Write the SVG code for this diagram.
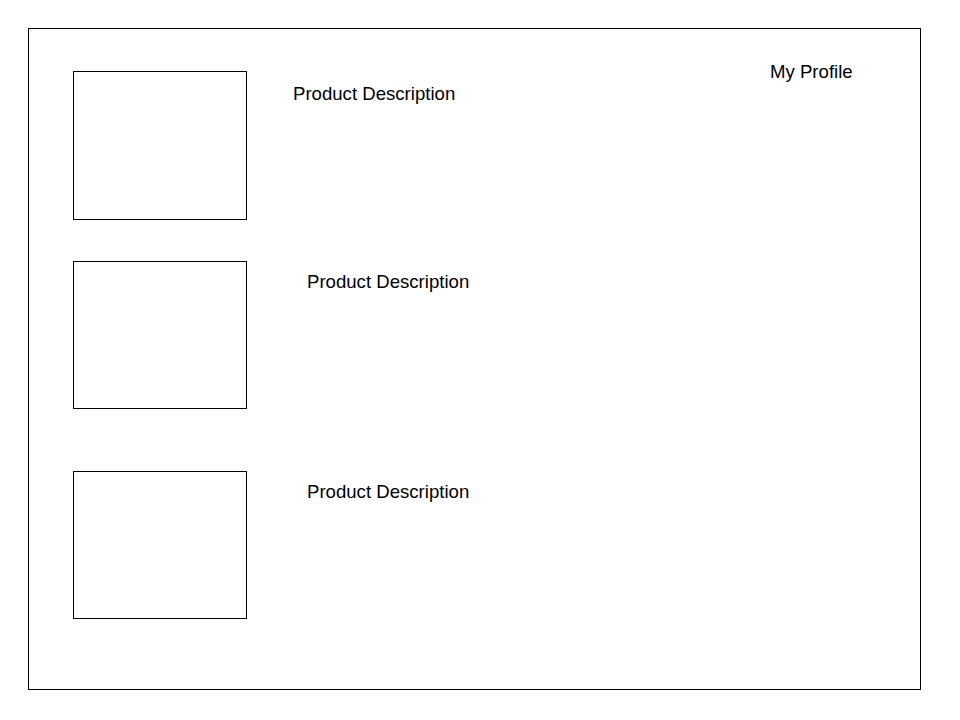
<svg xmlns="http://www.w3.org/2000/svg" width="960" height="720" viewBox="0 0 960 720">
<style>
.box{fill:#fff;stroke:#000;stroke-width:1}
.t{font-family:"Liberation Sans",Arial,sans-serif;font-size:18.6px;fill:#000}
</style>
<rect width="960" height="720" fill="#fff"/>
<g id="frame"><rect class="box" x="28.5" y="28.5" width="892" height="661"/></g>
<g id="profile"><text class="t" x="770" y="78">My Profile</text></g>
<g id="item1"><rect class="box" x="73.5" y="71.5" width="173" height="148"/><text class="t" x="293" y="100">Product Description</text></g>
<g id="item2"><rect class="box" x="73.5" y="261.5" width="173" height="147"/><text class="t" x="307" y="288">Product Description</text></g>
<g id="item3"><rect class="box" x="73.5" y="471.5" width="173" height="147"/><text class="t" x="307" y="498">Product Description</text></g>
<g id="connectors"></g>
</svg>
